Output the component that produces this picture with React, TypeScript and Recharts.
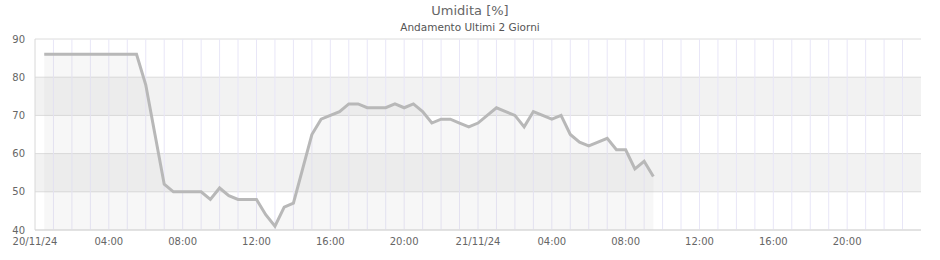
import { Area, CartesianGrid, ComposedChart, XAxis, YAxis } from "recharts";

const title = "Umidita [%]";
const subtitle = "Andamento Ultimi 2 Giorni";

// sample times (dd/mm HH:MM), one reading every 30 minutes
const times = [
  "20/11 00:30", "20/11 01:00", "20/11 01:30", "20/11 02:00", "20/11 02:30", "20/11 03:00",
  "20/11 03:30", "20/11 04:00", "20/11 04:30", "20/11 05:00", "20/11 05:30", "20/11 06:00",
  "20/11 06:30", "20/11 07:00", "20/11 07:30", "20/11 08:00", "20/11 08:30", "20/11 09:00",
  "20/11 09:30", "20/11 10:00", "20/11 10:30", "20/11 11:00", "20/11 11:30", "20/11 12:00",
  "20/11 12:30", "20/11 13:00", "20/11 13:30", "20/11 14:00", "20/11 14:30", "20/11 15:00",
  "20/11 15:30", "20/11 16:00", "20/11 16:30", "20/11 17:00", "20/11 17:30", "20/11 18:00",
  "20/11 18:30", "20/11 19:00", "20/11 19:30", "20/11 20:00", "20/11 20:30", "20/11 21:00",
  "20/11 21:30", "20/11 22:00", "20/11 22:30", "20/11 23:00", "20/11 23:30",
  "21/11 00:00", "21/11 00:30", "21/11 01:00", "21/11 01:30", "21/11 02:00", "21/11 02:30",
  "21/11 03:00", "21/11 03:30", "21/11 04:00", "21/11 04:30", "21/11 05:00", "21/11 05:30",
  "21/11 06:00", "21/11 06:30", "21/11 07:00", "21/11 07:30", "21/11 08:00", "21/11 08:30",
  "21/11 09:00", "21/11 09:30",
];

const humidity = [
  86, 86, 86, 86, 86, 86, 86, 86, 86, 86, 86, 78,
  65, 52, 50, 50, 50, 50, 48, 51, 49, 48, 48, 48,
  44, 41, 46, 47, 56, 65, 69, 70, 71, 73, 73, 72,
  72, 72, 73, 72, 73, 71, 68, 69, 69, 68, 67,
  68, 70, 72, 71, 70, 67, 71, 70, 69, 70, 65, 63,
  62, 63, 64, 61, 61, 56, 58, 54,
];

const yTicks = [40, 50, 60, 70, 80, 90];
const xTicks = [0, 4, 8, 12, 16, 20, 24, 28, 32, 36, 40, 44];
const xTickLabels = [
  "20/11/24", "04:00", "08:00", "12:00", "16:00", "20:00",
  "21/11/24", "04:00", "08:00", "12:00", "16:00", "20:00",
];
const gridHours = [
  1, 2, 3, 4, 5, 6, 7, 8, 9, 10, 11, 12, 13, 14, 15, 16, 17, 18, 19, 20, 21, 22, 23, 24,
  25, 26, 27, 28, 29, 30, 31, 32, 33, 34, 35, 36, 37, 38, 39, 40, 41, 42, 43, 44, 45, 46, 47,
];

const toHours = (t: string) => {
  const [d, hm] = t.split(" ");
  const day = parseInt(d.split("/")[0], 10) - 20;
  const [h, m] = hm.split(":").map(Number);
  return day * 24 + h + m / 60;
};

const data = times.map((t, i) => ({ hour: toHours(t), value: humidity[i] }));

const font = "'DejaVu Sans', sans-serif";
const tickStyle = { fill: "#666666", fontSize: 10, fontFamily: font };

export default function App() {
  return (
    <div style={{ position: "absolute", left: 0, top: 0, width: 940, height: 260, background: "#fff" }}>
      <div
        style={{
          position: "absolute", top: 2, width: 940, textAlign: "center",
          fontFamily: font, fontSize: 13, color: "#666", lineHeight: "18px",
        }}
      >
        {title}
      </div>
      <div
        style={{
          position: "absolute", top: 20, width: 940, textAlign: "center",
          fontFamily: font, fontSize: 10.5, color: "#555", lineHeight: "14px",
        }}
      >
        {subtitle}
      </div>
      <ComposedChart width={940} height={260} data={data} margin={{ top: 39, right: 19, bottom: 0, left: 0 }}>
        <CartesianGrid vertical={false} stroke="#dcdcdc" horizontalFill={["#ffffff", "#f2f2f2"]} fillOpacity={1} />
        <CartesianGrid horizontal={false} stroke="#e8e6f7" verticalValues={gridHours} />
        <XAxis
          dataKey="hour"
          type="number"
          domain={[0, 48]}
          ticks={xTicks}
          interval={0}
          tickFormatter={(v) => xTickLabels[xTicks.indexOf(v)] ?? ""}
          tickLine={false}
          axisLine={{ stroke: "#d8d8d8" }}
          tick={tickStyle}
          height={30}
        />
        <YAxis
          domain={[40, 90]}
          ticks={yTicks}
          interval={0}
          tickLine={false}
          tickSize={8}
          tickMargin={2}
          axisLine={{ stroke: "#d8d8d8" }}
          tick={tickStyle}
          width={35}
        />
        <YAxis yAxisId="frame" orientation="right" width={0} tick={false} tickLine={false} axisLine={{ stroke: "#d8d8d8" }} />
        <Area
          type="linear"
          dataKey="value"
          stroke="#b8b8b8"
          strokeWidth={3}
          fill="#cbcbcb"
          fillOpacity={0.15}
          dot={false}
          activeDot={false}
          isAnimationActive={false}
        />
      </ComposedChart>
    </div>
  );
}
